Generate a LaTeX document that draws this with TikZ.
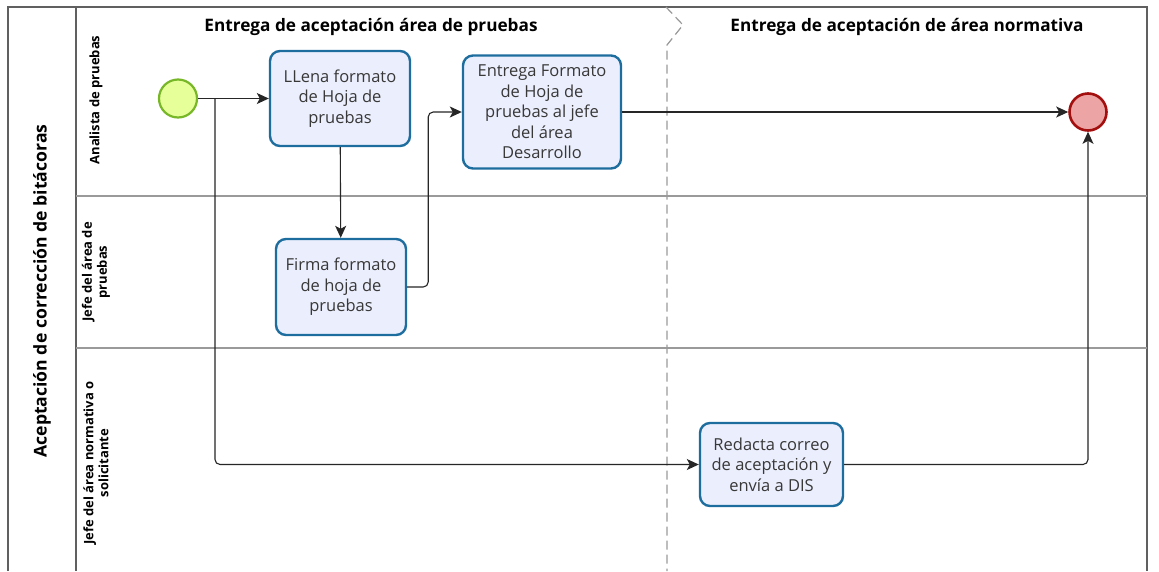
\documentclass[tikz,border=0pt]{standalone}
\usepackage{fontspec}
\setmainfont{Open Sans}
\usetikzlibrary{arrows.meta}
\definecolor{taskfill}{HTML}{EBEEFC}
\definecolor{taskdraw}{HTML}{1E6D9F}
\definecolor{startfill}{HTML}{E6FF98}
\definecolor{startdraw}{HTML}{78B828}
\definecolor{endfill}{HTML}{EDA4A4}
\definecolor{enddraw}{HTML}{A30E0E}
\definecolor{txt}{HTML}{383838}
\definecolor{frame}{HTML}{606060}
\definecolor{lanesep}{HTML}{9A9A9A}
\tikzset{
  task/.style={draw=taskdraw, fill=taskfill, line width=2.4pt, rounded corners=10pt,
    align=center, inner sep=1pt, text=txt,
    font=\fontsize{16.5}{20.5}\selectfont},
  evstart/.style={circle, draw=startdraw, fill=startfill, line width=2.2pt, minimum size=38pt, inner sep=0pt},
  evend/.style={circle, draw=enddraw, fill=endfill, line width=2.6pt, minimum size=37pt, inner sep=0pt},
  flow/.style={draw=black!85, line width=1.1pt, rounded corners=5pt,
    -{Stealth[length=12pt,width=11pt,inset=3pt]}},
  lanelabel/.style={rotate=90, align=center, font=\bfseries\fontsize{13}{15}\selectfont},
  phasetitle/.style={font=\bfseries\fontsize{17.2}{20}\selectfont},
}
\begin{document}
\begin{tikzpicture}[x=1pt,y=-1pt]
\useasboundingbox (0,0) rectangle (1159,571);
\fill[white] (0,0) rectangle (1159,571);

% pool frame and lanes
\draw[frame, line width=1.2pt] (8,571) -- (8,7) -- (1147,7) -- (1147,571);
\draw[frame, line width=1.2pt] (76,7) -- (76,571);
\draw[lanesep, line width=1.2pt] (76,196) -- (1147,196);
\draw[lanesep, line width=1.2pt] (76,348) -- (1147,348);

% phase separator
\draw[lanesep, line width=1.2pt, dash pattern=on 9pt off 5pt]
  (666,7) -- (683,25) -- (667,45) -- (667,571);

% titles
\node[rotate=90, font=\bfseries\fontsize{17.6}{20}\selectfont] (pool) at (42,291) {Aceptación de corrección de bitácoras};
\node[lanelabel] (lane1) at (96,100) {Analista de pruebas};
\node[lanelabel] (lane2) at (96,272) {Jefe del área de\\pruebas};
\node[lanelabel] (lane3) at (96,463) {Jefe del área normativa o\\solicitante};
\node[phasetitle] (ph1) at (371,27) {Entrega de aceptación área de pruebas};
\node[phasetitle] (ph2) at (907,27) {Entrega de aceptación de área normativa};

% events and tasks
\node[evstart] (start) at (178,98.5) {};
\node[task, minimum width=140pt, minimum height=95pt] (llena) at (340,98.5) {LLena formato\\de Hoja de\\pruebas};
\node[task, minimum width=130pt, minimum height=96pt] (firma) at (341,287) {Firma formato\\de hoja de\\pruebas};
\node[task, minimum width=158pt, minimum height=113pt] (entrega) at (542,112) {Entrega Formato\\de Hoja de\\pruebas al jefe\\del área\\Desarrollo};
\node[task, minimum width=143pt, minimum height=83pt] (redacta) at (771.5,464.5) {Redacta correo\\de aceptación y\\envía a DIS};
\node[evend] (end) at (1088,112) {};

% sequence flows
\coordinate (split) at (215,98.5);
\draw[flow] (start) -- (llena);
\draw[flow] (split) |- (redacta.west);
\draw[flow] (llena) -- (firma);
\draw[flow] (firma.east) -- ++(21,0) |- (entrega.west);
\draw[flow] (entrega) -- (end);
\draw[flow] (redacta.east) -| (end.south);
\end{tikzpicture}
\end{document}
